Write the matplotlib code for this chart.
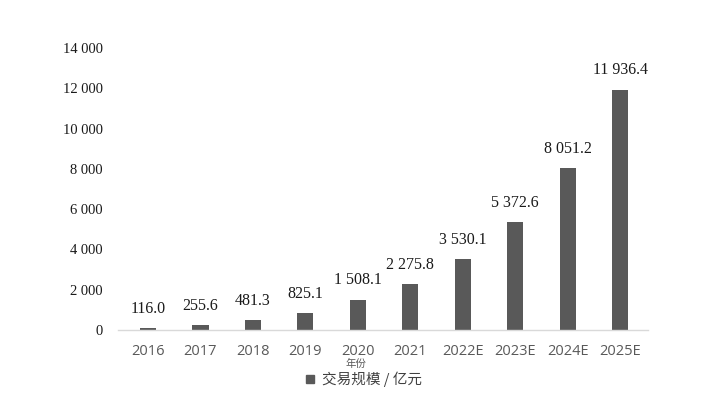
import matplotlib
matplotlib.use('Agg')
import matplotlib.pyplot as plt
from matplotlib.lines import Line2D

years = ['2016', '2017', '2018', '2019', '2020', '2021', '2022E', '2023E', '2024E', '2025E']
values = [116.0, 255.6, 481.3, 825.1, 1508.1, 2275.8, 3530.1, 5372.6, 8051.2, 11936.4]
yticks = [0, 2000, 4000, 6000, 8000, 10000, 12000, 14000]

def fmt(v, dec=1):
    s = f'{v:,.{dec}f}' if dec else f'{v:,.0f}'
    return s.replace(',', ' ')

fig = plt.figure(figsize=(7.17, 3.95), dpi=100)
ax = fig.add_axes([0.1646, 0.1646, 0.7392, 0.714])

x = range(len(years))
bars = ax.bar(x, values, width=0.31, color='#595959', zorder=2)

for xi, v in zip(x, values):
    ax.annotate(fmt(v), (xi, v), xytext=(0, 8), textcoords='offset points',
                ha='center', va='bottom', fontsize=11.5, family='Liberation Serif', color='#1a1a1a')

ax.set_xlim(-0.57, 9.53)
ax.set_ylim(0, 14000)
ax.set_yticks(yticks)
ax.set_yticklabels([fmt(t, 0) for t in yticks], family='Liberation Serif', fontsize=10.5, color='#1a1a1a')
ax.set_xticks(list(x))
ax.set_xticklabels(years, family='Open Sans', fontsize=10.5, color='#595959')
ax.tick_params(length=0, axis='both')
ax.tick_params(axis='y', pad=11)
ax.tick_params(axis='x', pad=10)

for s in ['top', 'right', 'left']:
    ax.spines[s].set_visible(False)
ax.spines['bottom'].set_color('#d9d9d9')
ax.spines['bottom'].set_linewidth(1.0)

fig.text(0.4965, 1 - 364 / 395, '年份', ha='center', va='center', fontsize=7.5,
         family=['Noto Sans CJK SC', 'DejaVu Sans'], color='#595959')

handle = Line2D([], [], marker='s', linestyle='none', color='#595959', markersize=6)
leg = fig.legend([handle], ['交易规模 / 亿元'], loc='center', bbox_to_anchor=(0.505, 1 - 379 / 395),
                 frameon=False, handletextpad=0.3, handlelength=1.0,
                 prop={'family': ['Noto Sans CJK SC', 'DejaVu Sans'], 'size': 10.5})
for t in leg.get_texts():
    t.set_color('#404040')

fig.savefig('out.png', dpi=100)
